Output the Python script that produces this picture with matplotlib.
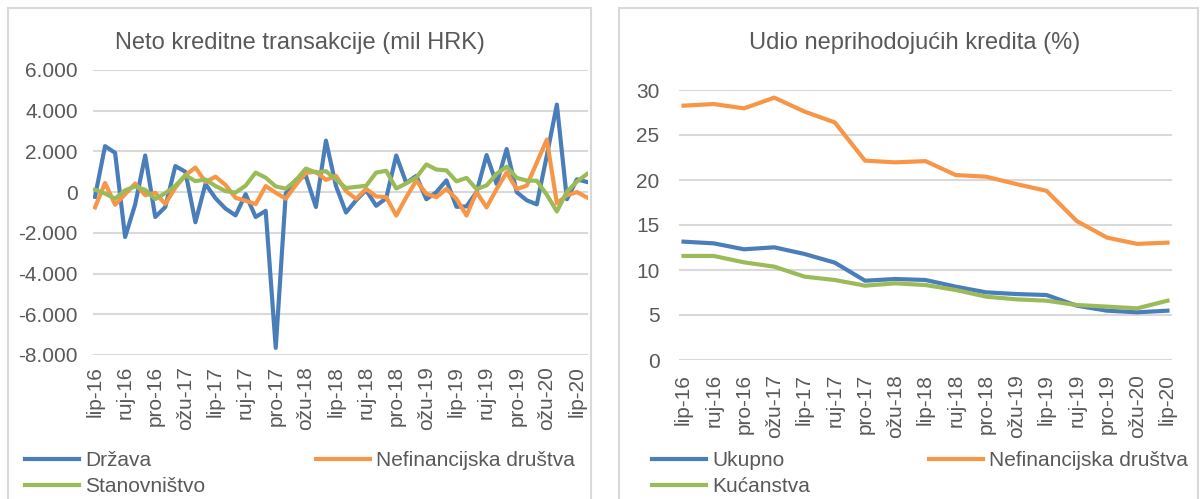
import matplotlib
matplotlib.use("Agg")
import matplotlib.pyplot as plt
from matplotlib.patches import Rectangle
from matplotlib.ticker import FuncFormatter

plt.rcParams['font.family'] = ['Liberation Sans', 'DejaVu Sans']

# monthly data, lip-16 .. srp-20 (mil HRK)
drzava = [-230, 2260, 1930, -2200, -600, 1800, -1220, -730, 1280, 1000,
          -1480, 400, -300, -810, -1140, -100, -1220, -920, -7650, -60,
          600, 800, -730, 2530, 300, -1000, -400, 100, -670, -300,
          1800, 450, 800, -350, 0, 580, -720, -700, 0, 1820,
          400, 2120, 0, -400, -600, 1800, 4300, -350, 630, 500]
nefin_m = [-750, 450, -620, -100, 420, -150, -30, -580, 220, 830,
           1210, 500, 760, 350, -280, -420, -590, 300, -30, -320,
           350, 950, 1000, 600, 800, 50, -330, 160, -210, -250,
           -1150, -250, 570, -80, -250, 160, -330, -1150, 0, -750,
           150, 970, 150, 320, 1450, 2580, -550, -150, 0, -260]
stanovnistvo = [120, -70, -320, 90, 280, 110, -340, -50, 310, 830,
                540, 620, 300, 50, -20, 320, 960, 710, 280, 170,
                580, 1160, 960, 1030, 620, 200, 260, 310, 960, 1050,
                180, 430, 720, 1360, 1110, 1070, 530, 700, 150, 330,
                900, 1250, 700, 570, 560, -130, -950, 20, 520, 890]

# quarterly data (%)
kvartali = ['lip-16', 'ruj-16', 'pro-16', 'ožu-17', 'lip-17', 'ruj-17', 'pro-17',
            'ožu-18', 'lip-18', 'ruj-18', 'pro-18', 'ožu-19', 'lip-19', 'ruj-19',
            'pro-19', 'ožu-20', 'lip-20']
ukupno = [13.15, 12.96, 12.3, 12.52, 11.78, 10.82, 8.81, 9.0, 8.89, 8.15,
          7.52, 7.33, 7.22, 6.04, 5.48, 5.3, 5.48]
nefin_q = [28.26, 28.44, 27.96, 29.15, 27.6, 26.4, 22.15, 21.96, 22.1, 20.55,
           20.37, 19.55, 18.8, 15.44, 13.6, 12.9, 13.04]
kucanstva = [11.56, 11.56, 10.85, 10.37, 9.26, 8.89, 8.26, 8.52, 8.33, 7.78,
             7.04, 6.74, 6.59, 6.11, 5.93, 5.74, 6.59]

BLUE = '#4A7EBB'
ORANGE = '#F79646'
GREEN = '#9BBB59'
TXT = '#595959'
GRID = '#D9D9D9'

W, H = 1203, 499
fig = plt.figure(figsize=(W / 100, H / 100), dpi=100)


def px_axes(left, top, right, bottom):
    return fig.add_axes([left / W, 1 - bottom / H, (right - left) / W, (bottom - top) / H])


# panel frames
for x0, x1 in [(8, 591), (619, 1198)]:
    fig.patches.append(Rectangle((x0 / W, -0.05), (x1 - x0) / W, 1.05 - 8 / H,
                                 transform=fig.transFigure, fill=False,
                                 edgecolor=GRID, linewidth=1.5))


def style(ax):
    for s in ax.spines.values():
        s.set_visible(False)
    ax.grid(axis='y', color=GRID, linewidth=1.5)
    ax.set_axisbelow(True)
    ax.tick_params(length=0, colors=TXT, labelsize=15)


# left chart
ax1 = px_axes(93, 70, 588, 355)
x = list(range(len(drzava)))
l1, = ax1.plot(x, drzava, color=BLUE, lw=3, solid_joinstyle='round')
l2, = ax1.plot(x, nefin_m, color=ORANGE, lw=3, solid_joinstyle='round')
l3, = ax1.plot(x, stanovnistvo, color=GREEN, lw=3, solid_joinstyle='round')
ax1.set_ylim(-8000, 6000)
ax1.set_yticks(range(-8000, 6001, 2000))
ax1.yaxis.set_major_formatter(FuncFormatter(lambda v, p: f"{v:,.0f}".replace(",", ".")))
ax1.set_xlim(-0.2, len(drzava) - 0.9)
ax1.set_xticks(range(0, len(drzava), 3))
ax1.set_xticklabels(kvartali, rotation=90, va='top', ha='center')
style(ax1)
ax1.tick_params(axis='y', pad=11)
ax1.tick_params(axis='x', pad=8)
fig.text(300 / W, 1 - 43 / H, 'Neto kreditne transakcije (mil HRK)', ha='center', va='center',
         fontsize=17, color=TXT)
fig.legend([l1, l3, l2], ['Država', 'Stanovništvo', 'Nefinancijska društva'],
           loc='upper left', bbox_to_anchor=(25 / W, 1 - 451 / H), ncol=2, frameon=False,
           borderpad=0, borderaxespad=0, handlelength=2.6, handletextpad=0.3,
           columnspacing=5.3, labelspacing=0.35, prop={'size': 15}, labelcolor=TXT)

# right chart
ax2 = px_axes(679, 90, 1172, 360)
q = list(range(len(kvartali)))
r1, = ax2.plot(q, ukupno, color=BLUE, lw=3, solid_joinstyle='round')
r2, = ax2.plot(q, nefin_q, color=ORANGE, lw=3, solid_joinstyle='round')
r3, = ax2.plot(q, kucanstva, color=GREEN, lw=3, solid_joinstyle='round')
ax2.set_ylim(0, 30)
ax2.set_yticks(range(0, 31, 5))
ax2.set_xlim(-0.15, len(kvartali) - 0.85)
ax2.set_xticks(q)
ax2.set_xticklabels(kvartali, rotation=90, va='top', ha='center')
style(ax2)
ax2.tick_params(axis='y', pad=14)
ax2.tick_params(axis='x', pad=10)
fig.text(915 / W, 1 - 43 / H, 'Udio neprihodojućih kredita (%)', ha='center', va='center',
         fontsize=17, color=TXT)
fig.legend([r1, r3, r2], ['Ukupno', 'Kućanstva', 'Nefinancijska društva'],
           loc='upper left', bbox_to_anchor=(652 / W, 1 - 451 / H), ncol=2, frameon=False,
           borderpad=0, borderaxespad=0, handlelength=2.6, handletextpad=0.3,
           columnspacing=5.7, labelspacing=0.35, prop={'size': 15}, labelcolor=TXT)

fig.savefig('out.png', dpi=100)
